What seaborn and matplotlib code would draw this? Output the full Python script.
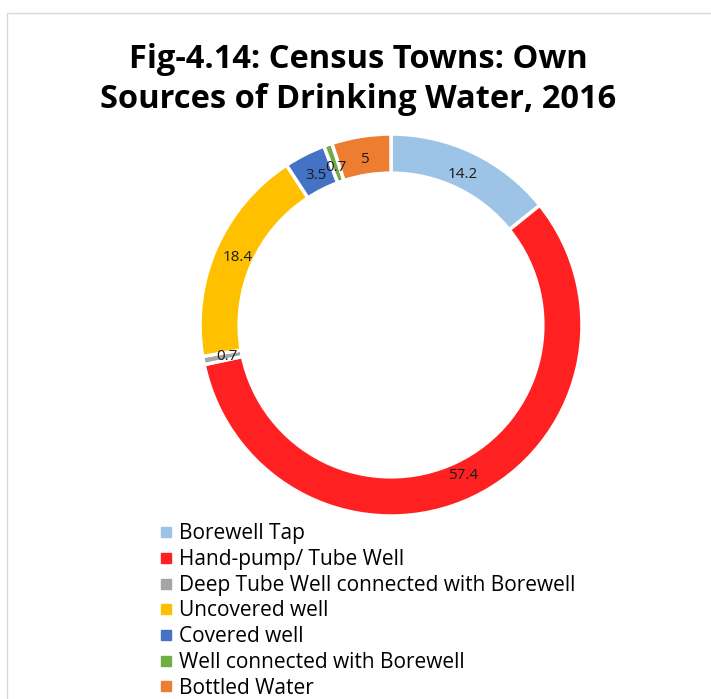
import matplotlib
matplotlib.use("Agg")
import matplotlib.pyplot as plt
from matplotlib.patches import Rectangle
from matplotlib.lines import Line2D
import numpy as np
import seaborn as sns

sns.set_theme(style="white")
plt.rcParams["font.family"] = ["Open Sans", "DejaVu Sans"]

sources = [
    "Borewell Tap",
    "Hand-pump/ Tube Well",
    "Deep Tube Well connected with Borewell",
    "Uncovered well",
    "Covered well",
    "Well connected with Borewell",
    "Bottled Water",
]
shares = [14.2, 57.4, 0.7, 18.4, 3.5, 0.7, 5]
colors = ["#9DC3E6", "#FF2121", "#A5A5A5", "#FFC000", "#4472C4", "#70AD47", "#ED7D31"]
title = "Fig-4.14: Census Towns: Own\nSources of Drinking Water, 2016"

W, H = 711, 699
fig = plt.figure(figsize=(W / 100, H / 100), dpi=100)
fig.patch.set_facecolor("white")

# thin frame around the chart area
fig.patches.append(Rectangle((7 / W, -0.01), 1.0, 1 - 13 / H + 0.01, transform=fig.transFigure,
                             fill=False, edgecolor="#D9D9D9", linewidth=1.0))

cx, cy, r = 391, 325, 191
ax = fig.add_axes([(cx - r) / W, (H - cy - r) / H, 2 * r / W, 2 * r / H])
ring = 0.205
wedges, _ = ax.pie(shares, colors=colors, startangle=90, counterclock=False, radius=1,
                   wedgeprops=dict(width=ring, edgecolor="white", linewidth=2.5))
ax.set_xlim(-1, 1)
ax.set_ylim(-1, 1)
ax.set_aspect("equal")
ax.axis("off")

for w, v in zip(wedges, shares):
    ang = np.deg2rad((w.theta1 + w.theta2) / 2)
    rr = 0.875
    ax.text(rr * np.cos(ang), rr * np.sin(ang), f"{v:g}", ha="center", va="center",
            fontsize=11, color="#1a1a1a")

fig.text(358 / W, 1 - 80 / H, title, ha="center", va="center", fontsize=23.5,
         fontweight="bold", color="black", linespacing=1.28)

handles = [Line2D([], [], marker="s", linestyle="none", markersize=7, markerfacecolor=c,
                  markeredgecolor=c) for c in colors]
fig.legend(handles, sources, loc="upper left", bbox_to_anchor=(145 / W, 1 - 513 / H),
           frameon=False, fontsize=15, handletextpad=0.15, labelspacing=0.225,
           borderpad=0, handlelength=1.0, labelcolor="black")

fig.savefig("out.png", dpi=100, facecolor="white")
